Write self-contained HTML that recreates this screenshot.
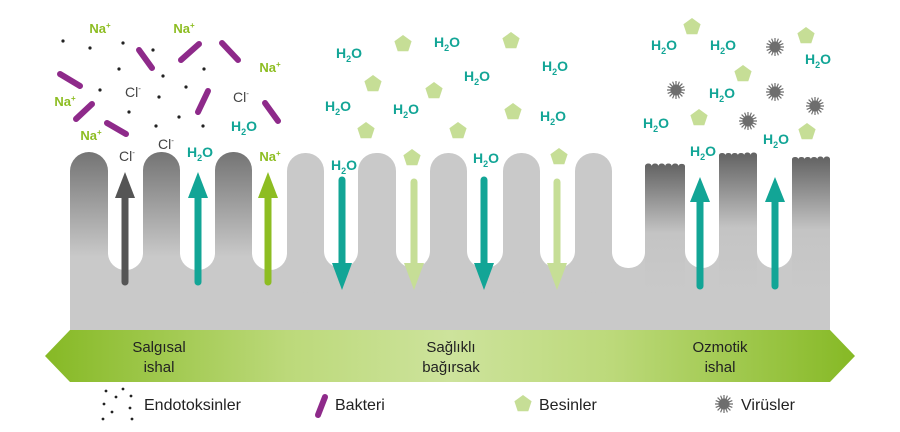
<!DOCTYPE html>
<html><head><meta charset="utf-8"><style>
html,body{margin:0;padding:0;background:#fff}
svg{display:block}
text{font-family:"Liberation Sans",sans-serif}
.h{fill:#12a596;font-weight:bold;font-size:14px}
.n{fill:#8dbd22;font-weight:bold;font-size:13px}
.c{fill:#444;font-size:14px}
.lg{fill:#222;font-size:16px}
.bd{fill:#222;font-size:15px}
</style></head><body>
<svg width="900" height="432" viewBox="0 0 900 432" xmlns="http://www.w3.org/2000/svg">
<defs>
<linearGradient id="gl" x1="0" y1="0" x2="0" y2="1"><stop offset="0" stop-color="#747474"/><stop offset="0.75" stop-color="#c9c9c9"/><stop offset="1" stop-color="#c9c9c9"/></linearGradient>
<linearGradient id="gr" x1="0" y1="0" x2="0" y2="1"><stop offset="0" stop-color="#626262"/><stop offset="0.55" stop-color="#c4c4c4"/><stop offset="1" stop-color="#c9c9c9"/></linearGradient>
<linearGradient id="band" x1="0" y1="0" x2="1" y2="0"><stop offset="0" stop-color="#86b925"/><stop offset="0.3" stop-color="#bcd97a"/><stop offset="0.5" stop-color="#cde39c"/><stop offset="0.7" stop-color="#bcd97a"/><stop offset="1" stop-color="#86b925"/></linearGradient>
<polygon id="pt" points="0,-9 8.6,-2.8 5.3,7.3 -5.3,7.3 -8.6,-2.8" fill="#c6de96"/>
<g id="vir"><circle r="5.5" fill="#6e6e6e"/><g stroke="#6e6e6e" stroke-width="1.2">
<line x1="0" y1="-9" x2="0" y2="9"/><line x1="-9" y1="0" x2="9" y2="0"/><line x1="-6.4" y1="-6.4" x2="6.4" y2="6.4"/><line x1="-6.4" y1="6.4" x2="6.4" y2="-6.4"/>
<line x1="-3.4" y1="-8.3" x2="3.4" y2="8.3"/><line x1="3.4" y1="-8.3" x2="-3.4" y2="8.3"/><line x1="-8.3" y1="-3.4" x2="8.3" y2="3.4"/><line x1="-8.3" y1="3.4" x2="8.3" y2="-3.4"/></g></g>
</defs>

<rect x="70" y="250" width="760" height="80" fill="#c9c9c9"/>
<g fill="#fff">
<rect x="108" y="200" width="35" height="70" rx="17"/>
<rect x="180" y="200" width="35" height="70" rx="17"/>
<rect x="252" y="200" width="35" height="70" rx="17"/>
<rect x="324" y="200" width="34" height="68" rx="17"/>
<rect x="396" y="200" width="34" height="68" rx="17"/>
<rect x="467" y="200" width="36" height="68" rx="17"/>
<rect x="540" y="200" width="35" height="68" rx="17"/>
<rect x="612" y="200" width="33" height="68" rx="16"/>
<rect x="685" y="200" width="34" height="68" rx="17"/>
<rect x="757" y="200" width="35" height="68" rx="17"/>
</g>
<g fill="url(#gl)">
<rect x="70" y="152" width="38" height="140" rx="19"/>
<rect x="143" y="152" width="37" height="140" rx="18"/>
<rect x="215" y="152" width="37" height="140" rx="18"/>
</g>
<g fill="#c9c9c9">
<rect x="287" y="153" width="37" height="140" rx="18"/>
<rect x="358" y="153" width="38" height="140" rx="18"/>
<rect x="430" y="153" width="37" height="140" rx="18"/>
<rect x="503" y="153" width="37" height="140" rx="18"/>
<rect x="575" y="153" width="37" height="140" rx="18"/>
</g>
<g fill="url(#gr)">
<path d="M645,166 a3.3,2.5 0 0 1 6.7,0 a3.3,2.5 0 0 1 6.7,0 a3.3,2.5 0 0 1 6.7,0 a3.3,2.5 0 0 1 6.7,0 a3.3,2.5 0 0 1 6.7,0 a3.3,2.5 0 0 1 6.5,0 L685,290 L645,290Z"/>
<path d="M719,155 a3.2,2.5 0 0 1 6.3,0 a3.2,2.5 0 0 1 6.3,0 a3.2,2.5 0 0 1 6.3,0 a3.2,2.5 0 0 1 6.3,0 a3.2,2.5 0 0 1 6.4,0 a3.2,2.5 0 0 1 6.4,0 L757,290 L719,290Z"/>
<path d="M792,159 a3.2,2.5 0 0 1 6.3,0 a3.2,2.5 0 0 1 6.3,0 a3.2,2.5 0 0 1 6.3,0 a3.2,2.5 0 0 1 6.3,0 a3.2,2.5 0 0 1 6.4,0 a3.2,2.5 0 0 1 6.4,0 L830,290 L792,290Z"/>
</g>

<g stroke-width="7" stroke-linecap="round">
<line x1="125" y1="282" x2="125" y2="195" stroke="#555"/>
<line x1="198" y1="282" x2="198" y2="195" stroke="#12a596"/>
<line x1="268" y1="282" x2="268" y2="195" stroke="#8dbd22"/>
<line x1="700" y1="286" x2="700" y2="198" stroke="#12a596"/>
<line x1="775" y1="286" x2="775" y2="198" stroke="#12a596"/>
<line x1="342" y1="180" x2="342" y2="268" stroke="#12a596"/>
<line x1="414" y1="182" x2="414" y2="268" stroke="#c6de96"/>
<line x1="484" y1="180" x2="484" y2="268" stroke="#12a596"/>
<line x1="557" y1="182" x2="557" y2="268" stroke="#c6de96"/>
</g>
<polygon points="125,172 115,198 135,198" fill="#555"/>
<polygon points="198,172 188,198 208,198" fill="#12a596"/>
<polygon points="268,172 258,198 278,198" fill="#8dbd22"/>
<polygon points="700,177 690,202 710,202" fill="#12a596"/>
<polygon points="775,177 765,202 785,202" fill="#12a596"/>
<polygon points="342,290 332,263 352,263" fill="#12a596"/>
<polygon points="414,290 404,263 424,263" fill="#c6de96"/>
<polygon points="484,290 474,263 494,263" fill="#12a596"/>
<polygon points="557,290 547,263 567,263" fill="#c6de96"/>

<g stroke="#8e2a8a" stroke-width="6" stroke-linecap="round">
<line x1="139" y1="50" x2="152" y2="68"/><line x1="181" y1="60" x2="199" y2="44"/>
<line x1="222" y1="43" x2="238" y2="60"/><line x1="60" y1="74" x2="80" y2="86"/>
<line x1="92" y1="104" x2="76" y2="119"/><line x1="107" y1="123" x2="126" y2="134"/>
<line x1="208" y1="91" x2="198" y2="112"/><line x1="265" y1="103" x2="278" y2="121"/>
</g>
<g fill="#222">
<circle cx="63" cy="41" r="1.6"/><circle cx="90" cy="48" r="1.6"/><circle cx="123" cy="43" r="1.6"/><circle cx="153" cy="50" r="1.6"/>
<circle cx="119" cy="69" r="1.6"/><circle cx="163" cy="76" r="1.6"/><circle cx="204" cy="69" r="1.6"/><circle cx="100" cy="90" r="1.6"/>
<circle cx="186" cy="87" r="1.6"/><circle cx="159" cy="97" r="1.6"/><circle cx="129" cy="112" r="1.6"/><circle cx="179" cy="117" r="1.6"/>
<circle cx="156" cy="126" r="1.6"/><circle cx="203" cy="126" r="1.6"/>
</g>
<g text-anchor="middle">
<text class="n" x="100" y="33">Na<tspan font-size="8" dy="-5">+</tspan></text>
<text class="n" x="184" y="33">Na<tspan font-size="8" dy="-5">+</tspan></text>
<text class="n" x="270" y="72">Na<tspan font-size="8" dy="-5">+</tspan></text>
<text class="n" x="65" y="106">Na<tspan font-size="8" dy="-5">+</tspan></text>
<text class="n" x="91" y="140">Na<tspan font-size="8" dy="-5">+</tspan></text>
<text class="n" x="270" y="161">Na<tspan font-size="8" dy="-5">+</tspan></text>
<text class="c" x="133" y="97">Cl<tspan font-size="8" dy="-6">-</tspan></text>
<text class="c" x="241" y="102">Cl<tspan font-size="8" dy="-6">-</tspan></text>
<text class="c" x="166" y="149">Cl<tspan font-size="8" dy="-6">-</tspan></text>
<text class="c" x="127" y="161">Cl<tspan font-size="8" dy="-6">-</tspan></text>
</g>

<g>
<use href="#pt" x="403" y="44"/><use href="#pt" x="511" y="41"/><use href="#pt" x="373" y="84"/><use href="#pt" x="434" y="91"/>
<use href="#pt" x="366" y="131"/><use href="#pt" x="458" y="131"/><use href="#pt" x="513" y="112"/><use href="#pt" x="412" y="158"/>
<use href="#pt" x="559" y="157"/>
<use href="#pt" x="692" y="27"/><use href="#pt" x="806" y="36"/><use href="#pt" x="743" y="74"/><use href="#pt" x="699" y="118"/><use href="#pt" x="807" y="132"/>
</g>
<g><use href="#vir" x="775" y="47"/><use href="#vir" x="676" y="90"/><use href="#vir" x="775" y="92"/><use href="#vir" x="815" y="106"/><use href="#vir" x="748" y="121"/></g>

<g text-anchor="middle">
<text class="h" x="244" y="131">H<tspan font-size="9" dy="4">2</tspan><tspan dy="-4">O</tspan></text>
<text class="h" x="200" y="157">H<tspan font-size="9" dy="4">2</tspan><tspan dy="-4">O</tspan></text>
<text class="h" x="349" y="58">H<tspan font-size="9" dy="4">2</tspan><tspan dy="-4">O</tspan></text>
<text class="h" x="447" y="47">H<tspan font-size="9" dy="4">2</tspan><tspan dy="-4">O</tspan></text>
<text class="h" x="477" y="81">H<tspan font-size="9" dy="4">2</tspan><tspan dy="-4">O</tspan></text>
<text class="h" x="555" y="71">H<tspan font-size="9" dy="4">2</tspan><tspan dy="-4">O</tspan></text>
<text class="h" x="338" y="111">H<tspan font-size="9" dy="4">2</tspan><tspan dy="-4">O</tspan></text>
<text class="h" x="406" y="114">H<tspan font-size="9" dy="4">2</tspan><tspan dy="-4">O</tspan></text>
<text class="h" x="553" y="121">H<tspan font-size="9" dy="4">2</tspan><tspan dy="-4">O</tspan></text>
<text class="h" x="344" y="170">H<tspan font-size="9" dy="4">2</tspan><tspan dy="-4">O</tspan></text>
<text class="h" x="486" y="163">H<tspan font-size="9" dy="4">2</tspan><tspan dy="-4">O</tspan></text>
<text class="h" x="664" y="50">H<tspan font-size="9" dy="4">2</tspan><tspan dy="-4">O</tspan></text>
<text class="h" x="723" y="50">H<tspan font-size="9" dy="4">2</tspan><tspan dy="-4">O</tspan></text>
<text class="h" x="818" y="64">H<tspan font-size="9" dy="4">2</tspan><tspan dy="-4">O</tspan></text>
<text class="h" x="722" y="98">H<tspan font-size="9" dy="4">2</tspan><tspan dy="-4">O</tspan></text>
<text class="h" x="656" y="128">H<tspan font-size="9" dy="4">2</tspan><tspan dy="-4">O</tspan></text>
<text class="h" x="703" y="156">H<tspan font-size="9" dy="4">2</tspan><tspan dy="-4">O</tspan></text>
<text class="h" x="776" y="144">H<tspan font-size="9" dy="4">2</tspan><tspan dy="-4">O</tspan></text>
</g>

<polygon points="45,356 70,330 830,330 855,356 830,382 70,382" fill="url(#band)"/>
<g text-anchor="middle" class="bd">
<text class="bd" x="159" y="352">Salgısal</text><text class="bd" x="159" y="372">ishal</text>
<text class="bd" x="451" y="352">Sağlıklı</text><text class="bd" x="451" y="372">bağırsak</text>
<text class="bd" x="720" y="352">Ozmotik</text><text class="bd" x="720" y="372">ishal</text>
</g>

<g fill="#222">
<circle cx="106" cy="391" r="1.4"/><circle cx="123" cy="389" r="1.4"/><circle cx="116" cy="397" r="1.4"/><circle cx="131" cy="396" r="1.4"/>
<circle cx="104" cy="404" r="1.4"/><circle cx="130" cy="408" r="1.4"/><circle cx="112" cy="412" r="1.4"/><circle cx="103" cy="419" r="1.4"/><circle cx="132" cy="419" r="1.4"/>
</g>
<text class="lg" x="144" y="410">Endotoksinler</text>
<line x1="318" y1="415" x2="325" y2="397" stroke="#8e2a8a" stroke-width="6" stroke-linecap="round"/>
<text class="lg" x="335" y="410">Bakteri</text>
<use href="#pt" x="523" y="404"/>
<text class="lg" x="539" y="410">Besinler</text>
<use href="#vir" x="724" y="404"/>
<text class="lg" x="741" y="410">Virüsler</text>
</svg>
</body></html>
